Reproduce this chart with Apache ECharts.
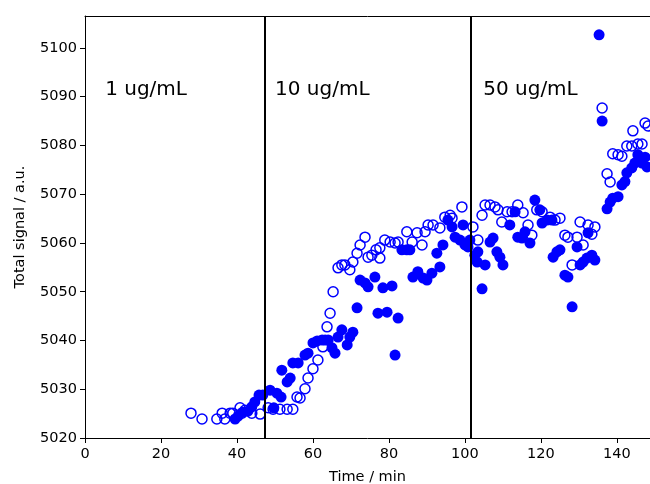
<!DOCTYPE html>
<html><head><meta charset="utf-8">
<script src="https://cdn.jsdelivr.net/npm/echarts@6/dist/echarts.min.js"></script>
<style>html,body{margin:0;padding:0;background:#fff}#c{width:650px;height:484px}</style>
</head><body><div id="c"></div>
<script>
const xTicks = [0,20,40,60,80,100,120,140];
const yTicks = [5020,5030,5040,5050,5060,5070,5080,5090,5100];
const vlines = [47.4, 101.6];
const annotations = [[5.3, 5091.5, '1 ug/mL'], [50.0, 5091.5, '10 ug/mL'], [104.8, 5091.5, '50 ug/mL']];

const filledX = [39.5,40.3,41.6,42.9,43.9,44.7,45.8,46.8,48.7,49.7,50.5,51.6,51.8,53.2,54.0,54.7,56.1,57.9,58.7,60.0,61.1,62.4,63.2,64.0,65.0,65.8,66.6,67.6,69.0,69.7,70.5,71.6,72.4,73.7,74.5,76.3,77.1,78.4,79.5,80.8,81.6,82.4,83.4,84.7,85.5,86.3,87.6,89.0,90.0,91.3,92.6,93.4,94.2,95.5,96.6,97.4,98.7,99.5,100.0,100.8,101.3,102.6,103.2,103.4,104.5,105.3,106.6,107.4,108.4,109.2,110.0,111.8,113.2,113.9,115.0,115.8,117.1,118.4,119.7,120.3,121.6,122.9,123.2,124.2,125.0,126.3,127.1,128.2,129.5,130.3,131.1,132.1,132.4,133.4,134.2,135.3,136.1,137.4,138.2,138.9,140.3,141.3,142.1,142.6,143.9,144.7,145.5,146.6,147.4,147.9];
const filledY = [5023.9,5024.5,5025.3,5025.5,5026.4,5027.4,5028.8,5028.8,5029.8,5026.2,5029.2,5028.4,5033.9,5031.5,5032.3,5035.4,5035.4,5037.0,5037.4,5039.5,5039.9,5040.1,5040.1,5040.1,5038.5,5037.4,5040.7,5042.2,5039.1,5040.7,5041.7,5046.7,5052.4,5051.8,5051.0,5053.0,5045.6,5050.8,5045.8,5051.2,5037.0,5044.6,5058.6,5058.6,5058.6,5053.0,5054.1,5052.8,5052.4,5053.8,5057.9,5055.1,5059.6,5064.7,5063.3,5061.2,5060.6,5063.7,5059.6,5059.2,5060.6,5057.5,5056.1,5058.2,5050.6,5055.5,5060.2,5061.0,5058.2,5057.1,5055.5,5063.7,5066.4,5061.2,5061.0,5062.3,5060.0,5068.8,5066.8,5064.1,5064.7,5064.7,5057.1,5058.2,5058.6,5053.4,5053.0,5046.9,5059.2,5055.5,5056.1,5056.9,5062.1,5057.5,5056.5,5102.7,5085.0,5067.0,5068.4,5069.2,5069.5,5071.9,5072.6,5074.4,5075.4,5076.4,5078.1,5076.4,5077.6,5075.6];

const openX = [27.9,30.8,34.7,36.1,36.8,38.2,38.9,40.8,41.3,42.1,43.9,46.1,48.2,49.5,51.3,53.2,54.7,55.8,56.6,57.9,58.7,60.0,61.3,62.6,63.7,64.5,65.3,66.6,67.6,68.4,69.7,70.5,71.6,72.4,73.7,74.5,75.5,76.6,77.6,77.6,78.9,80.3,81.6,82.4,84.7,86.1,87.4,88.7,89.5,90.3,91.6,93.4,94.7,96.1,96.6,99.2,102.1,103.4,104.5,105.3,106.6,107.9,108.7,109.7,111.1,112.4,113.9,115.3,116.6,117.6,118.9,120.3,122.4,123.7,125.0,126.3,127.1,128.2,129.5,130.3,131.1,132.4,133.4,134.2,136.1,137.4,138.2,138.9,140.3,141.3,142.6,143.9,144.2,145.5,146.6,147.4,148.2];
const openY = [5025.1,5023.9,5023.9,5025.1,5023.9,5025.1,5025.1,5026.2,5025.1,5025.7,5025.1,5024.9,5026.2,5025.9,5025.9,5025.9,5025.9,5028.4,5028.2,5030.1,5032.3,5034.2,5036.0,5038.7,5042.8,5045.6,5050.0,5054.9,5055.5,5055.5,5054.5,5056.1,5057.9,5059.6,5061.2,5057.1,5057.5,5058.6,5056.9,5059.0,5060.6,5060.2,5060.0,5060.2,5062.3,5060.2,5062.1,5059.6,5062.3,5063.7,5063.7,5063.1,5065.3,5065.7,5065.1,5067.4,5063.3,5060.6,5065.7,5067.8,5067.8,5067.4,5066.8,5064.3,5066.4,5066.4,5067.8,5066.2,5063.7,5061.6,5066.8,5066.4,5065.3,5064.7,5065.1,5061.6,5061.2,5055.5,5061.2,5064.3,5059.6,5063.7,5061.8,5063.3,5087.7,5074.2,5072.5,5078.3,5078.1,5077.8,5079.9,5079.9,5083.0,5080.3,5080.3,5084.6,5084.0];

const BLUE = '#0000ff';
const FONT = 'DejaVu Sans';
const filled = filledX.map((x,i)=>[x, filledY[i]]);
const open = openX.map((x,i)=>[x, openY[i]]);
const plain = v => String(v);

const chart = echarts.init(document.getElementById('c'), null, {renderer:'canvas'});
chart.setOption({
  animation: false,
  backgroundColor: '#fff',
  grid: {left: 85, right: 0, top: 16, bottom: 46, containLabel: false, outerBoundsMode: 'none'},
  xAxis: [{
    type: 'value', min: 0, max: 148.7, interval: 20, position: 'bottom',
    name: 'Time / min', nameLocation: 'middle', nameGap: 32,
    nameTextStyle: {fontFamily: FONT, fontSize: 14.5, color: '#000'},
    axisLine: {show: true, onZero: false, lineStyle: {color: '#000', width: 1}},
    axisTick: {show: true, length: 5, inside: false, customValues: xTicks, lineStyle: {color: '#000'}},
    axisLabel: {fontFamily: FONT, fontSize: 14.5, color: '#000', margin: 9, customValues: xTicks, formatter: plain},
    splitLine: {show: false}
  }, {
    type: 'value', min: 0, max: 148.7, position: 'top',
    axisLine: {show: true, onZero: false, lineStyle: {color: '#000', width: 1}},
    axisTick: {show: false}, axisLabel: {show: false}, splitLine: {show: false}
  }],
  yAxis: {
    type: 'value', min: 5020, max: 5106.56, interval: 10,
    name: 'Total signal / a.u.', nameLocation: 'middle', nameGap: 57, nameRotate: 90,
    nameTextStyle: {fontFamily: FONT, fontSize: 14.5, color: '#000'},
    axisLine: {show: true, onZero: false, lineStyle: {color: '#000', width: 1}},
    axisTick: {show: true, length: 5, customValues: yTicks, lineStyle: {color: '#000'}},
    axisLabel: {fontFamily: FONT, fontSize: 14.5, color: '#000', margin: 8, customValues: yTicks, formatter: plain},
    splitLine: {show: false}
  },
  series: [
    {
      type: 'scatter', name: 'open', data: open, symbol: 'circle', symbolSize: 10,
      itemStyle: {color: 'rgba(0,0,0,0)', borderColor: BLUE, borderWidth: 1.5, opacity: 1},
      emphasis: {disabled: true}, z: 2
    },
    {
      type: 'scatter', name: 'filled', data: filled, symbol: 'circle', symbolSize: 11,
      itemStyle: {color: BLUE, borderWidth: 0, opacity: 1},
      emphasis: {disabled: true}, z: 3,
      markLine: {
        silent: true, symbol: ['none','none'], label: {show: false},
        lineStyle: {color: '#000', width: 2, type: 'solid', opacity: 1},
        data: vlines.map(v => ({xAxis: v}))
      }
    },
    {
      type: 'scatter', name: 'labels', symbolSize: 0, silent: true,
      data: annotations.map(a => ({value: [a[0], a[1]], name: a[2]})),
      itemStyle: {opacity: 1},
      label: {show: true, position: [0, 0], align: 'left', verticalAlign: 'middle',
        formatter: p => p.name, fontFamily: FONT, fontSize: 20, color: '#000', textBorderWidth: 0},
      z: 4
    }
  ]
});
</script></body></html>
